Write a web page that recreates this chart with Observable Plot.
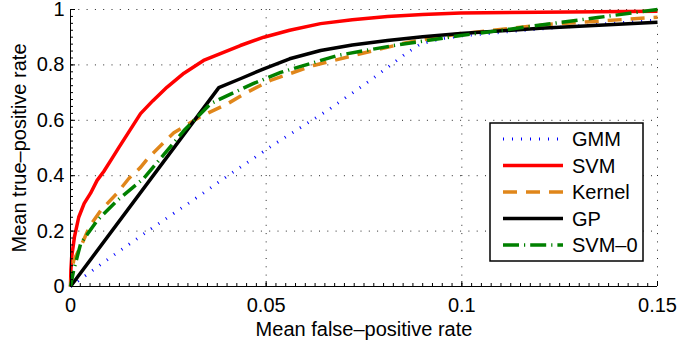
<!DOCTYPE html>
<html><head><meta charset="utf-8">
<script src="https://cdn.jsdelivr.net/npm/d3@7"></script>
<script src="https://cdn.jsdelivr.net/npm/@observablehq/plot@0.6"></script>
<style>
body{margin:0;background:#fff;}
#wrap{position:relative;width:677px;height:343px;font-family:"Liberation Sans",Arial,sans-serif;}
</style></head><body><div id="wrap"></div>
<script>
// ---- data ----
const seriesNames = ["GMM", "SVM", "Kernel", "GP", "SVM–0"];

const gmmX = [0, 0.0115, 0.0213, 0.0332, 0.040, 0.0519, 0.0656, 0.0767, 0.0861, 0.0894, 0.095, 0.100, 0.120, 0.1457, 0.150];
const gmmY = [0, 0.118, 0.215, 0.330, 0.398, 0.512, 0.635, 0.745, 0.845, 0.875, 0.895, 0.905, 0.930, 0.958, 0.962];

const svmX = [0, 0.0001, 0.0003, 0.0010, 0.0021, 0.0035, 0.0051, 0.0068, 0.0085, 0.0105, 0.0125, 0.0150, 0.0179, 0.0210, 0.0247, 0.0290, 0.0340, 0.0383, 0.0434, 0.0494, 0.0560, 0.0639, 0.0720, 0.0810, 0.0900, 0.0997, 0.1200, 0.1500];
const svmY = [0, 0.058, 0.106, 0.178, 0.250, 0.300, 0.336, 0.383, 0.415, 0.460, 0.505, 0.560, 0.624, 0.670, 0.720, 0.770, 0.816, 0.841, 0.870, 0.900, 0.925, 0.949, 0.963, 0.975, 0.982, 0.987, 0.990, 0.994];

const kernelX = [0, 0.0008, 0.0028, 0.0050, 0.0077, 0.0118, 0.0149, 0.0179, 0.0199, 0.0264, 0.0337, 0.0398, 0.0450, 0.0511, 0.0621, 0.0741, 0.0861, 0.0997, 0.1073, 0.1219, 0.1350, 0.1500];
const kernelY = [0, 0.094, 0.150, 0.220, 0.274, 0.335, 0.390, 0.430, 0.465, 0.555, 0.617, 0.657, 0.700, 0.744, 0.798, 0.840, 0.881, 0.913, 0.924, 0.946, 0.958, 0.972];

const gpX = [0, 0.0379, 0.0434, 0.0494, 0.0560, 0.0639, 0.0720, 0.0810, 0.0900, 0.0997, 0.1200, 0.1500];
const gpY = [0, 0.718, 0.750, 0.786, 0.822, 0.852, 0.872, 0.888, 0.902, 0.913, 0.932, 0.954];

const svm0X = [0, 0.0008, 0.0026, 0.0068, 0.0119, 0.0187, 0.0290, 0.0358, 0.0390, 0.0417, 0.0468, 0.0537, 0.0682, 0.0826, 0.0997, 0.1117, 0.1347, 0.1500];
const svm0Y = [0, 0.058, 0.155, 0.238, 0.310, 0.390, 0.563, 0.660, 0.682, 0.700, 0.733, 0.773, 0.834, 0.870, 0.906, 0.928, 0.971, 1.000];

const xTicks = [0, 0.05, 0.1, 0.15];
const xTickLabels = ["0", "0.05", "0.1", "0.15"];
const yTicks = [0, 0.2, 0.4, 0.6, 0.8, 1];
const yTickLabels = ["0", "0.2", "0.4", "0.6", "0.8", "1"];
const xGrid = [0.05, 0.1, 0.15];
const yGrid = [0.2, 0.4, 0.6, 0.8, 1];
const xLabel = "Mean false–positive rate";
const yLabel = "Mean true–positive rate";

// ---- styles ----
const styles = {
  "GMM":    {stroke: "#0000ff", strokeWidth: 3,   dash: "1,8"},
  "SVM":    {stroke: "#ff0000", strokeWidth: 3.5, dash: null},
  "Kernel": {stroke: "#e0861a", strokeWidth: 3.5, dash: "14,9"},
  "GP":     {stroke: "#000000", strokeWidth: 3.5, dash: null},
  "SVM–0":  {stroke: "#008000", strokeWidth: 3.5, dash: "16,5,1.2,5"}
};

const xs = [gmmX, svmX, kernelX, gpX, svm0X];
const ys = [gmmY, svmY, kernelY, gpY, svm0Y];
const rows = seriesNames.map((name, k) => xs[k].map((x, i) => ({series: name, x, y: ys[k][i]})));

const W = 677, H = 343, mL = 70, mR = 20, mT = 9, mB = 57;
const pw = W - mL - mR, ph = H - mT - mB;
const xMinor = d3.range(0, 0.15 + 1e-9, 0.0025);
const yMinor = d3.range(0, 1 + 1e-9, 0.025);
const fontFamily = "Liberation Sans, Arial, sans-serif";

const chart = Plot.plot({
  width: W, height: H,
  marginLeft: mL, marginRight: mR, marginTop: mT, marginBottom: mB,
  x: {domain: [0, 0.15]},
  y: {domain: [0, 1]},
  style: {fontFamily, fontSize: "20px", background: "#fff", color: "#000", overflow: "visible"},
  marks: [
    Plot.gridX(xGrid, {stroke: "#000", strokeOpacity: 0.85, strokeWidth: 1, strokeDasharray: "1,7.3"}),
    Plot.gridY(yGrid, {stroke: "#000", strokeOpacity: 0.85, strokeWidth: 1, strokeDasharray: "1,7.3"}),
    ...rows.map((data, k) => {
      const s = styles[seriesNames[k]];
      return Plot.line(data, {x: "x", y: "y", stroke: s.stroke, strokeWidth: s.strokeWidth,
        strokeDasharray: s.dash, strokeLinecap: "butt", strokeLinejoin: "round"});
    }),
    Plot.ruleX([0], {stroke: "#000", strokeWidth: 1}),
    Plot.ruleY([0], {stroke: "#000", strokeWidth: 1}),
    Plot.tickX(xMinor, {x: d => d, insetTop: ph - 3, stroke: "#000", strokeWidth: 1}),
    Plot.tickX(xTicks, {x: d => d, insetTop: ph - 5, stroke: "#000", strokeWidth: 1}),
    Plot.tickY(yMinor, {y: d => d, insetRight: pw - 3, stroke: "#000", strokeWidth: 1}),
    Plot.tickY(yTicks, {y: d => d, insetRight: pw - 5, stroke: "#000", strokeWidth: 1}),
    Plot.axisX(xTicks, {tickSize: 0, tickPadding: 11, fontSize: 20, label: null,
      tickFormat: (d) => xTickLabels[xTicks.indexOf(d)]}),
    Plot.axisY(yTicks, {tickSize: 0, tickPadding: 6, fontSize: 20, label: null,
      tickFormat: (d) => yTickLabels[yTicks.indexOf(d)]}),
    Plot.text([xLabel], {text: d => d, frameAnchor: "bottom", dy: 49, lineAnchor: "bottom", textAnchor: "middle", fontSize: 20}),
    Plot.text([yLabel], {text: d => d, frameAnchor: "left", dx: -45, rotate: -90, lineAnchor: "bottom", textAnchor: "middle", fontSize: 20})
  ]
});
document.getElementById("wrap").appendChild(chart);

// ---- legend (overlay) ----
const lg = d3.select("#wrap").append("svg")
  .attr("width", 156).attr("height", 141)
  .style("position", "absolute").style("left", "489px").style("top", "122px");
lg.append("rect").attr("x", 1).attr("y", 1).attr("width", 153).attr("height", 138)
  .attr("fill", "#fff").attr("stroke", "#000").attr("stroke-width", 1.5);
seriesNames.forEach((name, i) => {
  const s = styles[name];
  const cy = 17 + i * 26.5;
  lg.append("line").attr("x1", 14).attr("x2", 74).attr("y1", cy).attr("y2", cy)
    .attr("stroke", s.stroke).attr("stroke-width", s.strokeWidth)
    .attr("stroke-dasharray", s.dash).attr("stroke-linecap", "butt");
  lg.append("text").attr("x", 83).attr("y", cy + 7).text(name)
    .attr("font-family", fontFamily).attr("font-size", 20).attr("fill", "#000");
});
</script></body></html>
